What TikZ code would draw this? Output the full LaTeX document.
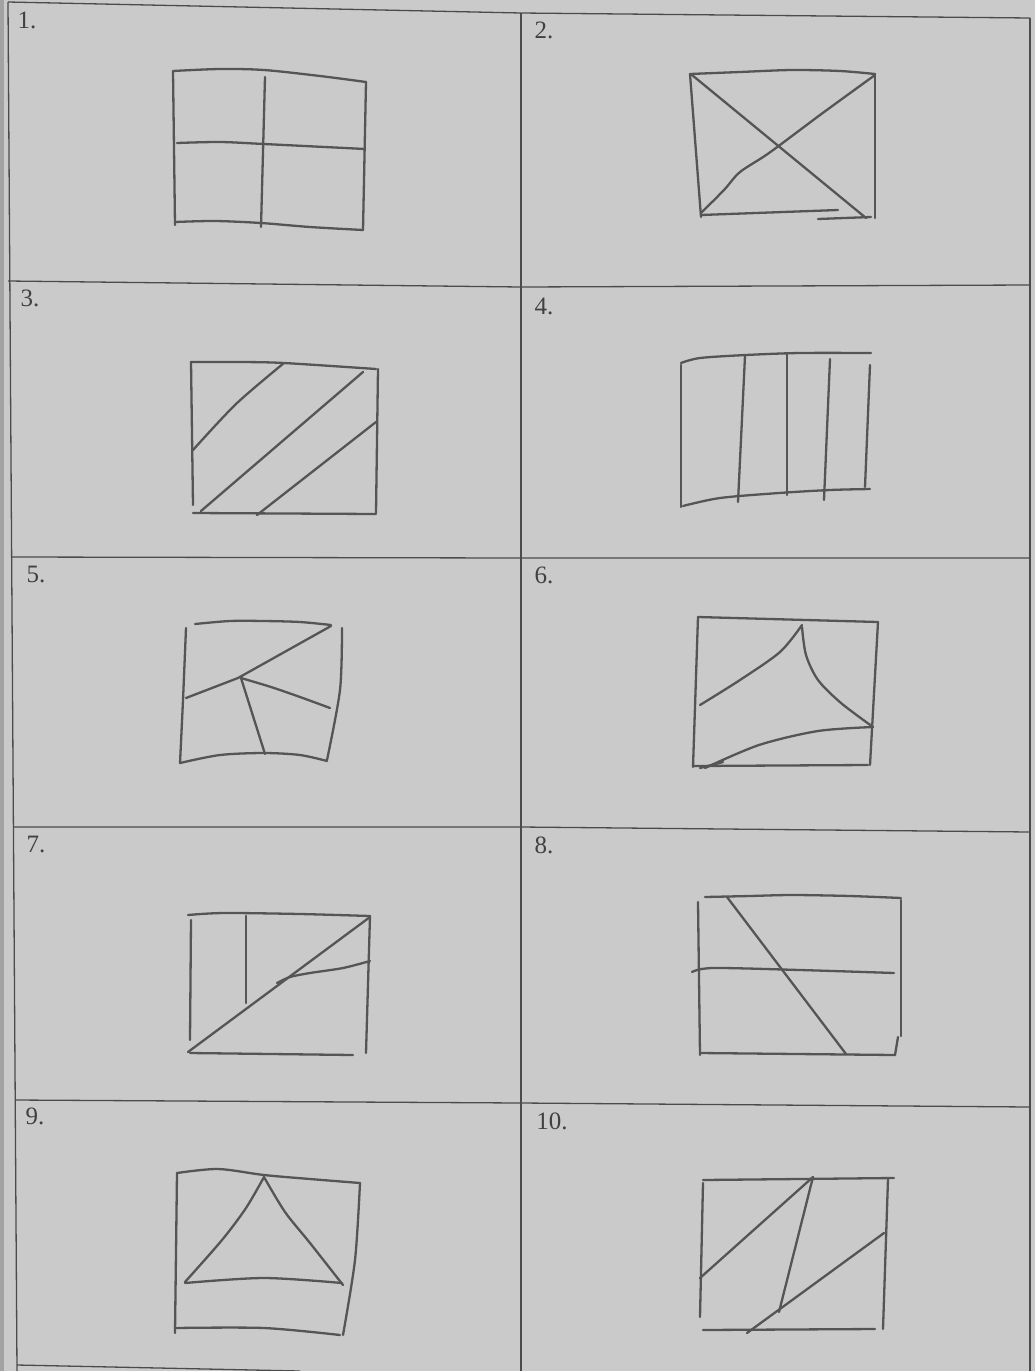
\documentclass[tikz,border=0pt]{standalone}
\usepackage{fontspec}
\setmainfont{Liberation Serif}
\definecolor{paper}{RGB}{202,202,202}
\definecolor{pencil}{RGB}{85,85,85}
\definecolor{rule}{RGB}{75,75,75}
\definecolor{ink}{RGB}{65,65,65}
\begin{document}
\begin{tikzpicture}[x=1pt,y=-1pt,
  pen/.style={draw=pencil,line width=2.3pt,line cap=round,line join=round},
  gridline/.style={draw=rule,line width=1.3pt},
  lbl/.style={text=ink,font=\fontsize{25}{28}\selectfont,inner sep=0pt}]
\useasboundingbox (0,0) rectangle (1035,1371);
\fill[paper] (0,0) rectangle (1035,1371);
\fill[paper!80!black] (0,0) rectangle (4,1371);
% ---------- table grid ----------
\draw[gridline] (8,2) -- (521,13) -- (1030,18);
\draw[gridline] (8,2) -- (17,1371);
\draw[gridline] (521,13) -- (521,1371);
\draw[gridline] (1030,18) -- (1030,1371);
\draw[gridline] (8,281) -- (521,287) -- (1030,285);
\draw[gridline] (11,557) -- (521,558) -- (1030,558);
\draw[gridline] (13,827) -- (521,827) -- (1030,832);
\draw[gridline] (15,1100) -- (521,1103) -- (1030,1107);
\draw[gridline] (17,1365) -- (300,1371);
% ---------- labels ----------
\node[lbl] (l1) at (27,20) {1.};
\node[lbl] (l2) at (544,30) {2.};
\node[lbl] (l3) at (30,298) {3.};
\node[lbl] (l4) at (544,306) {4.};
\node[lbl] (l5) at (36,574) {5.};
\node[lbl] (l6) at (544,575) {6.};
\node[lbl] (l7) at (36,844) {7.};
\node[lbl] (l8) at (544,845) {8.};
\node[lbl] (l9) at (35,1116) {9.};
\node[lbl] (l10) at (552,1121) {10.};
% ---------- sketch 1 ----------
\draw[pen] plot[smooth] coordinates {(173,71) (220,69) (264,70) (320,76) (366,82)};
\draw[pen] (173,71) -- (175,225);
\draw[pen] plot[smooth] coordinates {(175,222) (215,221) (261,223) (310,227) (363,230)};
\draw[pen] (366,82) -- (363,230);
\draw[pen] (265,77) -- (261,227);
\draw[pen] plot[smooth] coordinates {(177,143) (220,142) (264,144) (365,149)};
% ---------- sketch 2 ----------
\draw[pen] plot[smooth] coordinates {(690,74) (740,72) (792,70) (840,71) (875,74)};
\draw[pen] (690,74) -- (701,217);
\draw[pen] (875,74) -- (875,218);
\draw[pen] (701,215) -- (838,210);
\draw[pen] (818,219) -- (871,217);
\draw[pen] (692,75) -- (866,218);
\draw[pen] plot[smooth] coordinates {(875,75) (820,115) (769,153) (740,172) (724,190) (701,213)};
% ---------- sketch 3 ----------
\draw[pen] plot[smooth] coordinates {(191,362) (240,362) (284,363) (376,369)};
\draw[pen] (191,362) -- (193,505);
\draw[pen] (193,513) -- (376,514);
\draw[pen] (378,369) -- (376,513);
\draw[pen] plot[smooth] coordinates {(284,363) (236,404) (193,450)};
\draw[pen] (363,372) -- (201,511);
\draw[pen] (376,422) -- (257,515);
% ---------- sketch 4 ----------
\draw[pen] plot[smooth] coordinates {(681,363) (700,358) (746,355) (800,353) (871,353)};
\draw[pen] (681,365) -- (681,507);
\draw[pen] plot[smooth] coordinates {(683,506) (720,498) (779,493) (830,490) (870,489)};
\draw[pen] (870,365) -- (865,487);
\draw[pen] (745,356) -- (738,502);
\draw[pen] (787,354) -- (787,495);
\draw[pen] (830,359) -- (824,500);
% ---------- sketch 5 ----------
\draw[pen] plot[smooth] coordinates {(195,624) (230,621) (264,621) (300,622) (331,625)};
\draw[pen] plot[smooth] coordinates {(186,628) (183,700) (180,763)};
\draw[pen] plot[smooth] coordinates {(180,763) (220,755) (264,753) (300,755) (327,761)};
\draw[pen] plot[smooth] coordinates {(342,628) (340,690) (327,760)};
\draw[pen] (331,626) -- (238,678) -- (186,698);
\draw[pen] (241,678) -- (265,754);
\draw[pen] plot[smooth] coordinates {(241,678) (271,687) (300,697) (330,708)};
% ---------- sketch 6 ----------
\draw[pen] (698,617) -- (878,622);
\draw[pen] (698,617) -- (693,767);
\draw[pen] (878,622) -- (870,765);
\draw[pen] (693,766) -- (868,765);
\draw[pen] plot[smooth] coordinates {(700,705) (740,680) (780,652) (802,625)};
\draw[pen] plot[smooth] coordinates {(802,627) (806,655) (818,680) (841,703) (873,727)};
\draw[pen] plot[smooth] coordinates {(873,727) (818,731) (759,745) (705,768)};
\draw[pen] (700,768) -- (723,762);
% ---------- sketch 7 ----------
\draw[pen] plot[smooth] coordinates {(188,915) (224,913) (300,914) (370,916)};
\draw[pen] (191,920) -- (190,1040);
\draw[pen] (190,1053) -- (353,1055);
\draw[pen] (370,916) -- (366,1053);
\draw[pen] (246,916) -- (246,1003);
\draw[pen] (188,1052) -- (370,917);
\draw[pen] plot[smooth] coordinates {(277,983) (290,977) (310,973) (343,968) (370,961)};
% ---------- sketch 8 ----------
\draw[pen] plot[smooth] coordinates {(705,897) (750,896) (792,895) (850,896) (901,898)};
\draw[pen] (698,902) -- (700,1055);
\draw[pen] (901,900) -- (901,1036);
\draw[pen] (898,1037) -- (895,1055);
\draw[pen] (700,1053) -- (895,1055);
\draw[pen] plot[smooth] coordinates {(692,972) (713,968) (800,970) (894,973)};
\draw[pen] (727,897) -- (846,1054);
% ---------- sketch 9 ----------
\draw[pen] plot[smooth] coordinates {(177,1173) (218,1169) (264,1175) (310,1179) (360,1183)};
\draw[pen] (177,1173) -- (175,1333);
\draw[pen] plot[smooth] coordinates {(360,1183) (355,1260) (343,1335)};
\draw[pen] plot[smooth] coordinates {(185,1283) (264,1278) (342,1283)};
\draw[pen] plot[smooth] coordinates {(264,1177) (246,1208) (222,1240) (185,1282)};
\draw[pen] plot[smooth] coordinates {(264,1177) (285,1212) (310,1243) (343,1285)};
\draw[pen] plot[smooth] coordinates {(175,1328) (264,1328) (340,1335)};
% ---------- sketch 10 ----------
\draw[pen] (703,1180) -- (894,1178);
\draw[pen] (703,1183) -- (700,1317);
\draw[pen] (888,1179) -- (883,1329);
\draw[pen] (703,1330) -- (875,1329);
\draw[pen] (813,1177) -- (700,1278);
\draw[pen] (813,1177) -- (779,1312);
\draw[pen] (884,1233) -- (747,1333);
\end{tikzpicture}
\end{document}
